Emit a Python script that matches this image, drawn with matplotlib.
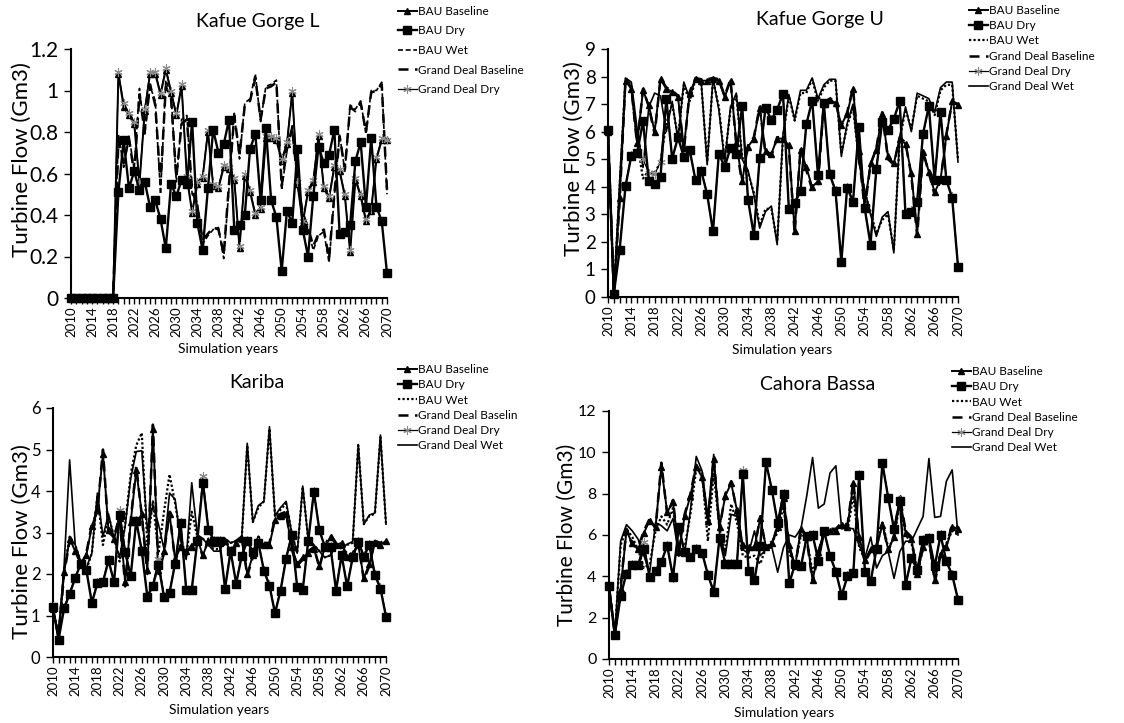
import matplotlib.pyplot as plt
import numpy as np

plt.rcParams['font.family'] = ['Lato', 'DejaVu Sans']

years = np.arange(2010, 2071)
year_labels = [str(y) if (y - 2010) % 4 == 0 else '' for y in years]

# ---- Kafue Gorge L (Gm3) ----
kgl_bau_base = [0, 0, 0, 0, 0, 0, 0, 0, 0,
                1.08, 0.92, 0.88, 0.84, 0.55, 0.90, 1.08, 1.08, 0.98, 1.10,
                0.99, 0.88, 1.02, 0.58, 0.41, 0.55, 0.58, 0.80, 0.54, 0.53,
                0.63, 0.62, 0.57, 0.24, 0.59, 0.51, 0.40, 0.43, 0.77, 0.77,
                0.76, 0.66, 0.74, 0.99, 0.55, 0.36, 0.51, 0.56, 0.78, 0.53,
                0.48, 0.63, 0.61, 0.49, 0.22, 0.57, 0.49, 0.37, 0.42, 0.67,
                0.76, 0.76]
kgl_bau_dry = [0, 0, 0, 0, 0, 0, 0, 0, 0,
               0.51, 0.76, 0.53, 0.61, 0.52, 0.56, 0.44, 0.47, 0.38, 0.24,
               0.55, 0.49, 0.57, 0.55, 0.85, 0.36, 0.23, 0.53, 0.81, 0.70,
               0.74, 0.86, 0.33, 0.35, 0.40, 0.72, 0.79, 0.47, 0.82, 0.47,
               0.39, 0.13, 0.42, 0.36, 0.72, 0.33, 0.20, 0.49, 0.73, 0.65,
               0.69, 0.81, 0.31, 0.32, 0.35, 0.66, 0.75, 0.44, 0.77, 0.44,
               0.37, 0.12]
kgl_bau_wet = [0, 0, 0, 0, 0, 0, 0, 0, 0,
               0.79, 0.63, 0.78, 0.62, 1.01, 0.79, 1.02, 0.95, 0.50, 1.05,
               0.98, 0.56, 0.86, 0.88, 0.50, 0.46, 0.26, 0.30, 0.33, 0.34,
               0.19, 0.53, 0.89, 0.67, 0.94, 0.96, 1.08, 0.85, 1.02, 1.03,
               1.05, 0.52, 0.71, 0.83, 0.55, 0.40, 0.33, 0.23, 0.30, 0.32,
               0.17, 0.49, 0.79, 0.61, 0.93, 0.91, 0.95, 0.79, 1.00, 1.00,
               1.04, 0.50]
kgl_gd_base = [0, 0, 0, 0, 0, 0, 0, 0, 0,
               0.76, 0.65, 0.77, 0.60, 0.98, 0.80, 1.03, 0.93, 0.55, 1.02,
               0.96, 0.58, 0.84, 0.86, 0.52, 0.44, 0.28, 0.31, 0.34, 0.33,
               0.21, 0.55, 0.88, 0.69, 0.93, 0.95, 1.06, 0.86, 1.01, 1.02,
               1.04, 0.54, 0.72, 0.82, 0.56, 0.41, 0.34, 0.25, 0.31, 0.33,
               0.19, 0.50, 0.78, 0.62, 0.92, 0.90, 0.94, 0.80, 0.99, 1.00,
               1.03, 0.52]
kgl_gd_dry = [0, 0, 0, 0, 0, 0, 0, 0, 0,
              1.09, 0.94, 0.89, 0.85, 0.56, 0.91, 1.09, 1.09, 0.99, 1.11,
              1.00, 0.89, 1.03, 0.59, 0.42, 0.56, 0.59, 0.81, 0.55, 0.54,
              0.64, 0.63, 0.58, 0.25, 0.60, 0.52, 0.41, 0.44, 0.78, 0.78,
              0.77, 0.67, 0.75, 1.00, 0.56, 0.37, 0.52, 0.57, 0.79, 0.54,
              0.49, 0.64, 0.62, 0.50, 0.23, 0.58, 0.50, 0.38, 0.43, 0.68,
              0.77, 0.76]

# ---- Kafue Gorge U ----
kgu_bau_base = [6.0, 0.1, 3.6, 7.85, 7.55, 5.6, 7.5, 6.95, 6.0, 7.9,
                7.55, 7.45, 7.25, 5.4, 7.4, 7.9, 7.85, 7.85, 7.9, 7.85,
                7.25, 7.85, 5.6, 4.2, 5.45, 5.75, 6.85, 5.3, 5.2, 5.75,
                5.75, 5.5, 2.4, 5.35, 4.7, 4.0, 4.2, 7.0, 7.15, 7.05,
                6.25, 6.65, 7.55, 5.3, 3.3, 4.85, 5.35, 6.65, 5.1, 4.85,
                5.75, 5.55, 4.5, 2.3, 5.25, 4.55, 3.8, 4.25, 5.85, 7.1,
                6.95]
kgu_bau_dry = [6.05, 0.12, 1.72, 4.02, 5.13, 5.22, 6.38, 4.21, 4.09, 4.35,
               7.2, 5.02, 5.79, 5.08, 5.33, 4.24, 4.56, 3.72, 2.38, 5.2,
               4.72, 5.41, 5.2, 6.94, 3.53, 2.24, 5.06, 6.87, 6.43, 6.8,
               7.38, 3.2, 3.4, 3.85, 6.27, 7.13, 4.42, 7.03, 4.45, 3.85,
               1.27, 3.97, 3.45, 6.16, 3.23, 1.9, 4.64, 6.35, 6.05, 6.47,
               7.1, 3.0, 3.1, 3.46, 5.92, 6.93, 4.24, 6.73, 4.24, 3.6,
               1.1]
kgu_bau_wet = [6.0, 0.1, 4.0, 7.9, 7.7, 5.6, 4.3, 4.6, 4.5, 4.9,
               6.3, 7.0, 5.8, 7.7, 7.1, 7.9, 7.7, 4.9, 7.9, 6.9,
               5.0, 6.8, 7.3, 5.1, 4.5, 3.8, 2.6, 3.2, 3.2, 2.0,
               5.8, 7.3, 6.4, 7.4, 7.4, 7.9, 7.1, 7.6, 7.85, 7.85,
               5.2, 6.2, 6.9, 5.0, 3.8, 3.1, 2.3, 2.8, 3.0, 1.7,
               5.7, 6.8, 6.1, 7.3, 7.2, 7.1, 6.6, 7.5, 7.7, 7.7,
               5.0]
kgu_gd_base = [6.0, 0.1, 3.5, 7.9, 7.6, 5.5, 7.55, 6.9, 5.9, 7.95,
               7.6, 7.5, 7.3, 5.3, 7.45, 7.95, 7.9, 7.9, 7.95, 7.9,
               7.3, 7.9, 5.5, 4.1, 5.5, 5.8, 6.9, 5.2, 5.1, 5.8,
               5.8, 5.4, 2.3, 5.4, 4.6, 3.9, 4.1, 7.05, 7.2, 7.1,
               6.2, 6.7, 7.6, 5.2, 3.2, 4.8, 5.4, 6.7, 5.0, 4.8,
               5.8, 5.6, 4.4, 2.2, 5.3, 4.5, 3.7, 4.2, 5.9, 7.1,
               7.0]
kgu_gd_dry = [6.05, 0.15, 1.75, 4.05, 5.15, 5.25, 5.0, 4.5, 4.45, 4.9,
              7.15, 5.05, 5.8, 5.1, 5.35, 4.25, 4.6, 3.75, 2.4, 5.2,
              4.75, 5.4, 5.25, 6.9, 3.55, 2.3, 5.05, 6.85, 6.45, 6.8,
              7.35, 3.25, 3.45, 3.9, 6.25, 7.1, 4.45, 7.0, 4.5, 3.9,
              1.3, 4.0, 3.5, 6.15, 3.25, 1.95, 4.65, 6.35, 6.05, 6.45,
              7.1, 3.05, 3.15, 3.5, 5.9, 6.9, 4.25, 6.7, 4.25, 3.65,
              1.15]
kgu_gd_wet = [6.0, 0.1, 4.2, 7.95, 7.8, 6.1, 4.7, 6.9, 7.4, 7.3,
              6.0, 7.1, 5.7, 7.8, 7.2, 7.95, 7.75, 4.8, 7.95, 6.8,
              4.9, 6.9, 7.4, 5.0, 4.6, 3.7, 2.5, 3.1, 3.3, 1.9,
              5.9, 7.35, 6.45, 7.5, 7.5, 7.95, 7.2, 7.7, 7.9, 7.9,
              5.1, 6.3, 7.0, 4.9, 3.9, 3.0, 2.2, 2.9, 3.1, 1.6,
              5.8, 6.9, 6.0, 7.4, 7.3, 7.2, 6.7, 7.6, 7.8, 7.8,
              4.9]

# ---- Kariba ----
kar_bau_base = [1.15, 0.45, 2.05, 2.85, 2.55, 2.25, 2.45, 3.15, 3.55, 4.9,
                3.05, 2.85, 3.35, 1.8, 3.25, 4.5, 3.45, 2.1, 5.5, 2.1,
                2.55, 3.45, 2.35, 2.65, 2.55, 2.65, 2.85, 2.45, 2.8, 2.75,
                2.75, 2.8, 2.55, 2.75, 2.85, 2.0, 2.45, 2.85, 2.7, 2.7,
                3.3, 3.4, 3.45, 2.65, 2.25, 2.4, 2.5, 2.6, 2.2, 2.65,
                2.9, 2.7, 2.75, 2.4, 2.5, 2.7, 1.9, 2.25, 2.75, 2.7,
                2.8]
kar_bau_dry = [1.2, 0.42, 1.17, 1.52, 1.9, 2.25, 2.1, 1.3, 1.78, 1.8,
               2.33, 1.8, 3.42, 2.52, 1.95, 3.28, 2.55, 1.45, 1.72, 2.22,
               1.45, 1.55, 2.25, 3.22, 1.62, 1.62, 2.8, 4.2, 3.07, 2.8,
               2.8, 1.65, 2.55, 1.77, 2.43, 2.8, 2.52, 2.75, 2.08, 1.72,
               1.05, 1.6, 2.37, 2.93, 1.68, 1.62, 2.8, 3.98, 3.05, 2.65,
               2.65, 1.6, 2.45, 1.7, 2.4, 2.78, 2.42, 2.7, 1.97, 1.65,
               0.97]
kar_bau_wet = [1.1, 0.55, 2.1, 2.9, 2.7, 2.3, 2.1, 2.5, 3.9, 2.7,
               3.4, 2.9, 2.3, 3.2, 4.4, 5.1, 5.4, 2.7, 3.75, 2.5,
               3.5, 4.4, 3.7, 2.9, 2.4, 3.5, 2.9, 2.85, 2.7, 2.6,
               2.6, 2.85, 2.75, 2.8, 2.85, 5.1, 3.25, 3.6, 3.75, 5.5,
               3.4, 3.55, 3.7, 3.0, 2.5, 4.1, 2.8, 2.7, 2.55, 2.4,
               2.45, 2.75, 2.6, 2.7, 2.75, 5.1, 3.2, 3.4, 3.45, 5.3,
               3.2]
kar_gd_base = [1.1, 0.5, 2.0, 2.8, 2.6, 2.2, 2.5, 3.2, 3.5, 5.0,
               3.0, 2.9, 3.4, 1.7, 3.3, 4.6, 3.4, 2.0, 5.6, 2.0,
               2.5, 3.5, 2.3, 2.7, 2.5, 2.7, 2.9, 2.4, 2.85, 2.8,
               2.8, 2.75, 2.5, 2.8, 2.9, 1.95, 2.4, 2.9, 2.75, 2.75,
               3.35, 3.45, 3.5, 2.6, 2.2, 2.35, 2.55, 2.65, 2.15, 2.7,
               2.95, 2.75, 2.8, 2.35, 2.55, 2.75, 1.85, 2.2, 2.8, 2.75,
               2.85]
kar_gd_dry = [1.22, 0.45, 1.2, 1.55, 1.92, 2.27, 2.12, 1.33, 1.8, 1.83,
              2.35, 1.83, 3.55, 2.55, 1.97, 3.3, 2.57, 1.48, 1.75, 2.35,
              1.48, 1.58, 2.27, 3.25, 1.65, 1.65, 2.82, 4.35, 3.1, 2.82,
              2.82, 1.68, 2.57, 1.8, 2.45, 2.82, 2.55, 2.77, 2.1, 1.75,
              1.08, 1.63, 2.4, 2.95, 1.7, 1.65, 2.82, 4.0, 3.07, 2.67,
              2.67, 1.63, 2.47, 1.73, 2.42, 2.8, 2.45, 2.72, 2.0, 1.68,
              1.0]
kar_gd_wet = [1.1, 0.6, 2.2, 4.75, 2.7, 2.3, 2.15, 2.5, 3.95, 2.9,
              3.45, 2.85, 2.4, 3.15, 4.3, 4.95, 4.97, 3.05, 3.65, 3.2,
              2.6, 3.95, 3.8, 2.8, 2.35, 4.2, 2.95, 2.85, 2.7, 2.55,
              2.55, 2.85, 2.75, 2.8, 2.85, 5.15, 3.25, 3.65, 3.75, 5.55,
              3.4, 3.6, 3.75, 3.0, 2.5, 4.12, 2.8, 2.7, 2.55, 2.4,
              2.45, 2.75, 2.62, 2.72, 2.78, 5.12, 3.2, 3.42, 3.47, 5.35,
              3.2]

# ---- Cahora Bassa ----
cb_bau_base = [3.55, 1.2, 3.4, 6.2, 5.6, 5.3, 6.1, 6.7, 6.4, 9.3,
               7.1, 7.6, 5.2, 6.9, 7.9, 9.3, 8.8, 6.7, 9.7, 6.4,
               7.9, 8.5, 7.2, 5.5, 5.4, 5.4, 6.8, 5.4, 5.6, 6.4,
               7.8, 5.5, 4.5, 6.3, 5.9, 3.8, 5.2, 6.2, 6.2, 6.2,
               6.5, 6.4, 8.5, 5.9, 4.8, 5.3, 5.4, 6.5, 5.3, 5.9,
               7.8, 6.1, 5.8, 4.1, 5.4, 5.8, 3.8, 5.1, 5.4, 6.4,
               6.3]
cb_bau_dry = [3.52, 1.16, 3.05, 4.13, 4.56, 4.56, 5.3, 3.97, 4.24, 4.69,
              5.49, 3.97, 6.38, 5.17, 4.93, 5.3, 5.14, 4.08, 3.24, 5.85,
              4.61, 4.61, 4.61, 8.95, 4.24, 3.81, 5.46, 9.51, 8.18, 6.57,
              8.0, 3.67, 4.6, 4.48, 5.93, 6.0, 4.75, 6.17, 4.99, 4.23,
              3.08, 4.0, 4.15, 8.9, 4.23, 3.78, 5.33, 9.47, 7.8, 6.28,
              7.66, 3.59, 4.88, 4.32, 5.77, 5.85, 4.48, 6.0, 4.72, 4.07,
              2.87]
cb_bau_wet = [3.5, 1.2, 5.5, 6.3, 5.9, 5.3, 4.4, 4.6, 6.2, 6.9,
              6.5, 7.3, 5.0, 5.4, 7.0, 9.2, 9.1, 5.7, 9.0, 6.3,
              5.2, 7.5, 6.6, 5.0, 4.9, 5.0, 4.6, 5.4, 5.7, 6.1,
              7.4, 5.1, 4.6, 6.0, 5.8, 4.2, 5.2, 6.1, 6.1, 6.2,
              6.5, 6.2, 7.9, 5.4, 4.8, 5.3, 5.4, 6.6, 5.4, 5.8,
              7.6, 6.0, 5.6, 4.3, 5.3, 5.7, 4.0, 5.1, 5.6, 6.2,
              6.0]
cb_gd_base = [3.5, 1.2, 3.5, 6.3, 5.5, 5.4, 6.2, 6.8, 6.3, 9.5,
              7.0, 7.7, 5.1, 7.0, 8.0, 9.4, 8.9, 6.6, 9.8, 6.3,
              8.0, 8.6, 7.1, 5.4, 5.5, 5.3, 6.9, 5.3, 5.5, 6.5,
              7.9, 5.4, 4.4, 6.4, 5.8, 3.7, 5.1, 6.3, 6.3, 6.3,
              6.6, 6.5, 8.6, 5.8, 4.7, 5.2, 5.5, 6.6, 5.2, 6.0,
              7.9, 6.2, 5.9, 4.0, 5.5, 5.9, 3.7, 5.0, 5.5, 6.5,
              6.4]
cb_gd_dry = [3.55, 1.2, 3.1, 4.15, 4.6, 4.6, 5.65, 4.0, 4.3, 4.7,
             5.5, 3.9, 6.4, 5.2, 4.95, 5.35, 5.15, 4.1, 3.3, 5.9,
             4.65, 4.65, 4.65, 9.15, 4.25, 3.85, 5.5, 9.5, 8.2, 6.6,
             8.05, 3.7, 4.65, 4.5, 5.95, 6.05, 4.8, 6.2, 5.0, 4.25,
             3.1, 4.05, 4.2, 8.95, 4.25, 3.8, 5.35, 9.5, 7.85, 6.3,
             7.7, 3.6, 4.9, 4.35, 5.8, 5.9, 4.5, 6.05, 4.75, 4.1,
             2.9]
cb_gd_wet = [3.5, 1.2, 5.7, 6.5, 6.2, 5.8, 5.0, 4.2, 6.6, 6.45,
             6.2, 6.8, 5.0, 5.1, 7.2, 9.8, 9.1, 6.9, 9.9, 6.1,
             5.0, 7.0, 6.9, 5.3, 5.1, 6.2, 5.0, 5.3, 5.4, 4.2,
             5.4, 6.0, 5.9, 6.3, 7.9, 9.75, 7.3, 7.5, 9.0, 9.35,
             6.3, 6.35, 6.3, 5.5, 4.9, 5.9, 4.4, 5.0, 5.2, 3.9,
             5.2, 5.7, 5.7, 6.3, 6.9, 9.7, 6.85, 6.9, 8.6, 9.15,
             6.0]

W, H = 1124, 723
fig = plt.figure(figsize=(W / 100, H / 100), dpi=100)


def style(name, wet_dashed=False):
    if name.startswith("BAU Baseline"):
        return dict(color='black', lw=1.4, marker='^', ms=4.5, zorder=3)
    if name.startswith("BAU Dry"):
        return dict(color='black', lw=1.7, marker='s', ms=5.5, zorder=5)
    if name.startswith("BAU Wet"):
        if wet_dashed:
            return dict(color='black', lw=1.2, dashes=(3, 1.6), zorder=2)
        return dict(color='black', lw=1.6, dashes=(1, 1), zorder=2)
    if name.startswith("Grand Deal Baselin"):
        return dict(color='black', lw=1.8, dashes=(4, 2.6), dash_capstyle='butt', zorder=2)
    if name.startswith("Grand Deal Dry"):
        return dict(color='black', lw=0.9, marker=(6, 2, 0), ms=6,
                    mec='#8a8a8a', mew=0.8, zorder=4)
    return dict(color='black', lw=1.2, zorder=2)


def panel(box, series, yticks, ytick_size, title, title_xy,
          xlabel_xy, ylabel_xy, ylabel_size, leg_xy, leg_space, wet_dashed=False):
    left, right, top, bottom = box
    ax = fig.add_axes([left / W, 1 - bottom / H, (right - left) / W, (bottom - top) / H])
    for name, vals in series:
        ax.plot(years, vals, label=name, clip_on=False, **style(name, wet_dashed))
    ax.set_xlim(2010, 2070)
    ax.set_ylim(yticks[0], yticks[-1])
    ax.set_yticks(yticks)
    ax.set_yticklabels(['%g' % t for t in yticks])
    ax.set_xticks(years)
    ax.set_xticklabels(year_labels, rotation=90)
    ax.tick_params(axis='x', length=4, width=1, labelsize=9.5, pad=2)
    ax.tick_params(axis='y', length=5, width=1, labelsize=ytick_size, pad=4)
    for s in ['top', 'right']:
        ax.spines[s].set_visible(False)
    for s in ['left', 'bottom']:
        ax.spines[s].set_linewidth(1.5)
    fig.text(title_xy[0] / W, 1 - title_xy[1] / H, title, ha='center', va='center', fontsize=14)
    fig.text(xlabel_xy[0] / W, 1 - xlabel_xy[1] / H, 'Simulation years',
             ha='center', va='center', fontsize=10)
    fig.text(ylabel_xy[0] / W, 1 - ylabel_xy[1] / H, 'Turbine Flow (Gm3)',
             ha='center', va='center', rotation=90, fontsize=ylabel_size)
    ax.legend(loc='upper left', bbox_to_anchor=(leg_xy[0] / W, 1 - leg_xy[1] / H),
              bbox_transform=fig.transFigure, frameon=False, fontsize=8.5,
              handlelength=1.6, handletextpad=0.1, labelspacing=leg_space,
              borderpad=0, borderaxespad=0)
    return ax


panel((71, 387, 49, 298),
      [("BAU Baseline", kgl_bau_base), ("BAU Dry", kgl_bau_dry), ("BAU Wet", kgl_bau_wet),
       ("Grand Deal Baseline", kgl_gd_base), ("Grand Deal Dry", kgl_gd_dry)],
      [0, 0.2, 0.4, 0.6, 0.8, 1.0, 1.2], 15, 'Kafue Gorge L', (258, 21),
      (228, 349), (22, 160), 16, (398, 6), 0.72, wet_dashed=True)

panel((608, 958, 49, 297),
      [("BAU Baseline", kgu_bau_base), ("BAU Dry", kgu_bau_dry), ("BAU Wet", kgu_bau_wet),
       ("Grand Deal Baseline", kgu_gd_base), ("Grand Deal Dry", kgu_gd_dry),
       ("Grand Deal Wet", kgu_gd_wet)],
      [0, 1, 2, 3, 4, 5, 6, 7, 8, 9], 13.5, 'Kafue Gorge U', (820, 20),
      (782, 350), (574, 159), 16, (969, 5), 0.36)

panel((53, 386, 408, 657),
      [("BAU Baseline", kar_bau_base), ("BAU Dry", kar_bau_dry), ("BAU Wet", kar_bau_wet),
       ("Grand Deal Baselin", kar_gd_base), ("Grand Deal Dry", kar_gd_dry),
       ("Grand Deal Wet", kar_gd_wet)],
      [0, 1, 2, 3, 4, 5, 6], 12, 'Kariba', (257, 382),
      (219, 710), (22, 542), 16, (398, 364), 0.36)

panel((609, 958, 411, 659),
      [("BAU Baseline", cb_bau_base), ("BAU Dry", cb_bau_dry), ("BAU Wet", cb_bau_wet),
       ("Grand Deal Baseline", cb_gd_base), ("Grand Deal Dry", cb_gd_dry),
       ("Grand Deal Wet", cb_gd_wet)],
      [0, 2, 4, 6, 8, 10, 12], 11.5, 'Cahora Bassa', (818, 384),
      (784, 713), (567, 535), 15, (952, 366), 0.36)

fig.savefig('out.png', dpi=100)
